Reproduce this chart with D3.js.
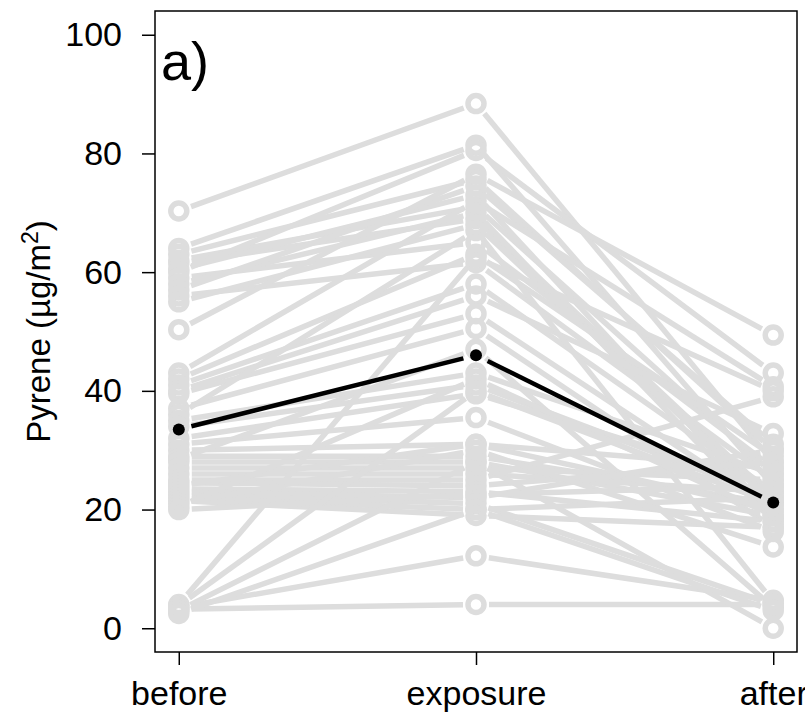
<!DOCTYPE html>
<html>
<head>
<meta charset="utf-8">
<script src="https://cdn.jsdelivr.net/npm/d3@7"></script>
<style>
  html, body { margin: 0; padding: 0; background: #ffffff; }
  svg { display: block; }
  text { font-family: "Liberation Sans", Arial, sans-serif; fill: #000; }
</style>
</head>
<body>
<div id="chart"></div>
<script>
// ---- Data ----
const categories = ["before", "exposure", "after"];
const yTicks = [0, 20, 40, 60, 80, 100];
const panelLabel = "a)";

const beforeValues = [70.3, 64, 63, 62, 61.5, 60.5, 60, 59, 58, 57, 56, 55, 50.3, 43, 42, 41, 40, 39.5, 37, 36, 35, 34, 32, 31, 30, 29, 28.5, 28, 27, 26, 25, 24.5, 24, 23.5, 23, 22.5, 22, 21.5, 21, 20.5, 20, 4, 3.8, 3.5, 3.2, 3, 2.5];
const exposureValues = [88.4, 81.4, 75.6, 71, 69, 73, 80.5, 65, 70, 74.5, 61.6, 68, 76.5, 72, 63, 58, 56, 53, 50.5, 67, 43, 41, 39.5, 35.5, 31, 29, 47, 28, 27, 26, 25, 24, 31, 23, 22, 21, 20, 19, 30, 42, 22.5, 62.5, 40, 12.2, 4, 28, 20];
const afterValues = [28, 24, 30, 26, 22, 19, 43, 27, 18, 31, 25, 21, 49.4, 40.7, 29, 23, 32.8, 20, 17, 4.5, 26, 22, 24, 16.3, 27, 21, 3.5, 19, 25, 23, 39, 28, 20, 18, 30, 4, 22, 17, 13.7, 19, 24, 40, 21, 4.7, 4, 0, 3];
const meanValues = [33.5, 46, 21.2];

// ---- Layout ----
const W = 805, H = 714;
const box = { left: 155, right: 797, top: 11, bottom: 652 };

const svg = d3.select("#chart").append("svg").attr("width", W).attr("height", H);

// R-style 4% axis extension
const x = d3.scaleLinear().domain([0.92, 3.08]).range([box.left, box.right]);
const y = d3.scaleLinear().domain([-4, 104]).range([box.bottom, box.top]);

const subjects = beforeValues.map((b, i) => [b, exposureValues[i], afterValues[i]]);

const GAP = 13;
function gappedSegments(vals) {
  const segs = [];
  for (let k = 0; k < vals.length - 1; k++) {
    const x1 = x(k + 1), y1 = y(vals[k]), x2 = x(k + 2), y2 = y(vals[k + 1]);
    const dx = x2 - x1, dy = y2 - y1, L = Math.hypot(dx, dy);
    if (L <= 2 * GAP) continue;
    const ux = dx / L, uy = dy / L;
    segs.push([x1 + ux * GAP, y1 + uy * GAP, x2 - ux * GAP, y2 - uy * GAP]);
  }
  return segs;
}

const gray = "#dddddd";
const gSubj = svg.append("g");
subjects.forEach(vals => {
  const g = gSubj.append("g");
  g.selectAll("line").data(gappedSegments(vals)).join("line")
    .attr("x1", d => d[0]).attr("y1", d => d[1])
    .attr("x2", d => d[2]).attr("y2", d => d[3])
    .attr("stroke", gray).attr("stroke-width", 5.5).attr("stroke-linecap", "butt");
  g.selectAll("circle").data(vals).join("circle")
    .attr("cx", (d, i) => x(i + 1)).attr("cy", d => y(d))
    .attr("r", 8).attr("fill", "none")
    .attr("stroke", gray).attr("stroke-width", 5.5);
});

// mean line
const gMean = svg.append("g");
gMean.selectAll("line").data(gappedSegments(meanValues)).join("line")
  .attr("x1", d => d[0]).attr("y1", d => d[1])
  .attr("x2", d => d[2]).attr("y2", d => d[3])
  .attr("stroke", "#000").attr("stroke-width", 4.5);
gMean.selectAll("circle").data(meanValues).join("circle")
  .attr("cx", (d, i) => x(i + 1)).attr("cy", d => y(d))
  .attr("r", 6).attr("fill", "#000");

// box
svg.append("rect")
  .attr("x", box.left).attr("y", box.top)
  .attr("width", box.right - box.left).attr("height", box.bottom - box.top)
  .attr("fill", "none").attr("stroke", "#000").attr("stroke-width", 1.5);

// y axis
const yAxis = d3.axisLeft(y).tickValues(yTicks).tickSize(13).tickPadding(20);
const gy = svg.append("g").attr("transform", `translate(${box.left},0)`).call(yAxis);
gy.select(".domain").remove();
gy.selectAll(".tick line").attr("stroke", "#000").attr("stroke-width", 1.5);
gy.selectAll(".tick text").style("font-size", "34px").style("font-family", "'Liberation Sans', Arial, sans-serif").attr("fill", "#000");

// x axis
const xAxis = d3.axisBottom(x).tickValues([1, 2, 3]).tickFormat((d, i) => categories[i]).tickSize(13).tickPadding(16);
const gx = svg.append("g").attr("transform", `translate(0,${box.bottom})`).call(xAxis);
gx.select(".domain").remove();
gx.selectAll(".tick line").attr("stroke", "#000").attr("stroke-width", 1.5);
gx.selectAll(".tick text").style("font-size", "34px").style("font-family", "'Liberation Sans', Arial, sans-serif").attr("fill", "#000");

// y title
const yt = svg.append("text")
  .attr("transform", `translate(50,${(box.top + box.bottom) / 2}) rotate(-90)`)
  .attr("text-anchor", "middle")
  .style("font-size", "33px");
yt.append("tspan").text("Pyrene (µg/m");
yt.append("tspan").attr("dy", -12).style("font-size", "23px").text("2");
yt.append("tspan").attr("dy", 12).text(")");

// panel label
svg.append("text").attr("x", 161).attr("y", 80).style("font-size", "54px").text(panelLabel);
</script>
</body>
</html>
